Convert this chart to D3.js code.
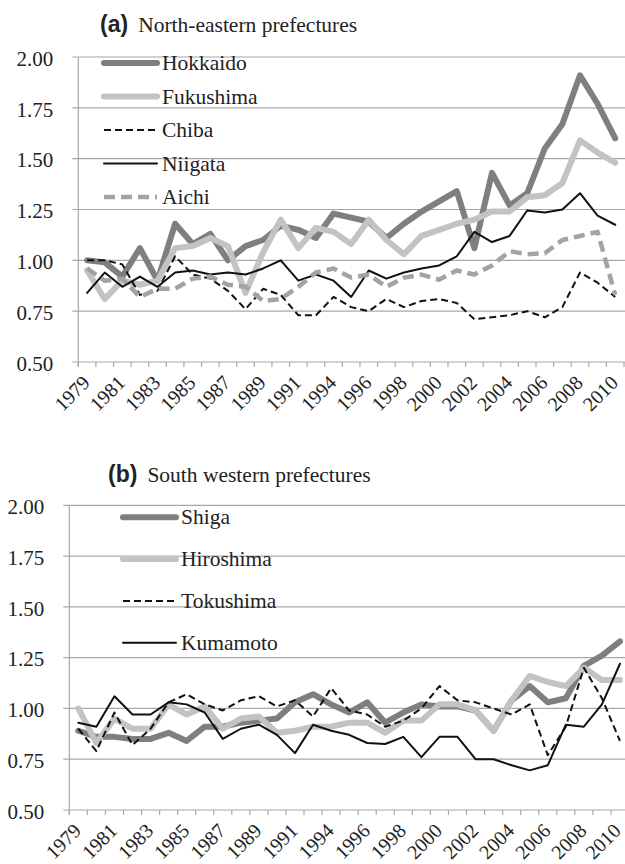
<!DOCTYPE html>
<html>
<head>
<meta charset="utf-8">
<script src="https://cdn.jsdelivr.net/npm/d3@7"></script>
<style>
  body { margin: 0; background: #fff; }
  svg { display: block; }
</style>
</head>
<body>
<div id="chart"></div>
<script>
// categories: 1993 is not in the series
const years = [1979,1980,1981,1982,1983,1984,1985,1986,1987,1988,1989,1990,1991,1992,
               1994,1995,1996,1997,1998,1999,2000,2001,2002,2003,2004,2005,2006,2007,2008,2009,2010];
const yTicks = [0.5, 0.75, 1.0, 1.25, 1.5, 1.75, 2.0];

// (a) North-eastern prefectures
const hokkaido  = [1.00,0.99,0.92,1.06,0.90,1.18,1.08,1.13,1.00,1.07,1.10,1.17,1.15,1.11,1.23,1.21,1.19,1.11,1.18,1.24,1.29,1.34,1.06,1.43,1.27,1.33,1.55,1.67,1.91,1.77,1.60];
const fukushima = [0.95,0.81,0.90,0.88,0.90,1.06,1.07,1.11,1.07,0.84,1.04,1.20,1.06,1.16,1.14,1.08,1.20,1.10,1.03,1.12,1.15,1.18,1.20,1.24,1.24,1.31,1.32,1.38,1.59,1.53,1.48];
const chiba     = [1.00,1.00,0.98,0.83,0.85,1.02,0.93,0.91,0.85,0.76,0.86,0.83,0.73,0.73,0.82,0.77,0.75,0.81,0.77,0.80,0.81,0.79,0.71,0.72,0.73,0.75,0.72,0.77,0.94,0.89,0.82];
const niigata   = [0.84,0.94,0.87,0.92,0.87,0.94,0.95,0.93,0.94,0.93,0.96,1.00,0.90,0.93,0.90,0.82,0.95,0.91,0.94,0.96,0.975,1.02,1.14,1.09,1.12,1.245,1.235,1.25,1.33,1.22,1.175];
const aichi     = [0.96,0.90,0.91,0.82,0.86,0.86,0.91,0.92,0.88,0.87,0.80,0.81,0.87,0.94,0.96,0.915,0.93,0.87,0.915,0.93,0.905,0.95,0.93,0.975,1.045,1.03,1.035,1.10,1.12,1.14,0.83];

// (b) South western prefectures
const shiga     = [0.89,0.86,0.86,0.85,0.85,0.88,0.84,0.91,0.91,0.93,0.94,0.95,1.03,1.07,1.02,0.98,1.03,0.93,0.98,1.02,1.01,1.01,0.99,0.89,1.04,1.11,1.03,1.05,1.21,1.26,1.33];
const hiroshima = [1.00,0.83,0.95,0.90,0.90,1.02,0.97,1.01,0.90,0.95,0.96,0.88,0.89,0.91,0.91,0.93,0.93,0.88,0.94,0.94,1.02,1.02,0.99,0.89,1.04,1.16,1.13,1.11,1.20,1.14,1.14];
const tokushima = [0.90,0.79,0.98,0.82,0.90,1.03,1.07,1.02,0.99,1.04,1.06,1.01,1.04,0.96,1.10,0.99,0.97,0.91,0.94,1.00,1.11,1.04,1.03,1.00,0.97,1.02,0.77,0.91,1.20,1.05,0.84];
const kumamoto  = [0.93,0.91,1.06,0.97,0.97,1.03,1.02,0.98,0.85,0.90,0.92,0.87,0.78,0.92,0.89,0.87,0.83,0.825,0.86,0.76,0.86,0.86,0.75,0.75,0.72,0.695,0.72,0.92,0.91,1.02,1.22];

const styles = {
    darkThick:  {stroke: "#7f7f7f", width: 6,   dash: null},
    lightThick: {stroke: "#c3c3c3", width: 6,   dash: null},
    blackDash:  {stroke: "#111",    width: 2,   dash: "7,4"},
    blackLine:  {stroke: "#111",    width: 2,   dash: null},
    grayDash:   {stroke: "#a3a3a3", width: 4.5, dash: "11,6"}
};

const W = 625, H = 864;
const svg = d3.select("#chart").append("svg")
    .attr("width", W).attr("height", H)
    .attr("viewBox", [0, 0, W, H]);

const serif = "'Liberation Serif', 'Times New Roman', serif";
const sans = "'Liberation Sans', Arial, sans-serif";

function drawPanel(o) {
    const x = d3.scaleBand().domain(years).range([o.left, o.right]).padding(0);
    const y = d3.scaleLinear().domain([0.5, 2.0]).range([o.bottom, o.top]);
    const cx = d => x(d) + x.bandwidth() / 2;
    const g = svg.append("g");

    // title
    const t = g.append("text").attr("x", o.titleX).attr("y", o.titleY).attr("fill", "#222");
    t.append("tspan").attr("font-family", sans).attr("font-weight", "bold")
        .attr("font-size", "23px").text(o.tag);
    t.append("tspan").attr("font-family", serif).attr("font-size", "21.5px")
        .attr("dx", 10).text(o.title);

    // gridlines + y labels
    g.append("g").selectAll("line").data(yTicks).join("line")
        .attr("x1", o.left - 6).attr("x2", W + 5)
        .attr("y1", d => y(d)).attr("y2", d => y(d))
        .attr("stroke", "#a8a8a8").attr("stroke-width", 1.2);
    g.append("g").selectAll("text").data(yTicks).join("text")
        .attr("x", o.left - 25).attr("y", d => y(d)).attr("dy", "0.42em")
        .attr("text-anchor", "end")
        .attr("font-family", serif).attr("font-size", "21px").attr("fill", "#222")
        .text(d => d3.format(".2f")(d));

    // y axis line
    g.append("line").attr("x1", o.left).attr("x2", o.left)
        .attr("y1", o.top).attr("y2", o.bottom + 5)
        .attr("stroke", "#a8a8a8").attr("stroke-width", 1.2);

    // x tick marks at category boundaries
    const bounds = years.map(d => x(d)).concat([o.right]);
    g.append("g").selectAll("line").data(bounds).join("line")
        .attr("x1", d => d).attr("x2", d => d)
        .attr("y1", o.bottom).attr("y2", o.bottom + 5)
        .attr("stroke", "#a8a8a8").attr("stroke-width", 1.2);

    // rotated year labels, every other category
    g.append("g").selectAll("text").data(years.filter((d, i) => i % 2 === 0)).join("text")
        .attr("transform", d => `translate(${Math.min(cx(d) + 4, W - 3)},${o.bottom + 22}) rotate(-45)`)
        .attr("text-anchor", "end")
        .attr("font-family", serif).attr("font-size", "20px").attr("fill", "#222")
        .text(d => d);

    // series
    const line = d3.line().x((d, i) => cx(years[i])).y(d => y(d));
    o.series.forEach(s => {
        const st = styles[s.style];
        g.append("path").datum(s.values)
            .attr("d", line)
            .attr("fill", "none")
            .attr("stroke", st.stroke)
            .attr("stroke-width", st.width)
            .attr("stroke-linejoin", "round")
            .attr("stroke-linecap", st.dash ? "butt" : "round")
            .attr("stroke-dasharray", st.dash);
    });

    // legend
    const lg = g.append("g").selectAll("g").data(o.series).join("g")
        .attr("transform", (d, i) => `translate(${o.legendX},${o.legendY + i * o.legendStep})`);
    lg.append("line").attr("x1", 0).attr("x2", 53).attr("y1", 0).attr("y2", 0)
        .attr("stroke", d => styles[d.style].stroke)
        .attr("stroke-width", d => styles[d.style].width)
        .attr("stroke-dasharray", d => styles[d.style].dash)
        .attr("stroke-linecap", d => styles[d.style].dash ? "butt" : "round");
    lg.append("text").attr("x", 58).attr("y", 7)
        .attr("font-family", serif).attr("font-size", "21.5px").attr("fill", "#222")
        .text(d => d.name);
}

drawPanel({
    tag: "(a)", title: "North-eastern prefectures", titleX: 100, titleY: 32,
    left: 78.3, right: 624, top: 57, bottom: 362,
    legendX: 104, legendY: 63, legendStep: 33.5,
    series: [
        {name: "Hokkaido",  values: hokkaido,  style: "darkThick"},
        {name: "Fukushima", values: fukushima, style: "lightThick"},
        {name: "Chiba",     values: chiba,     style: "blackDash"},
        {name: "Niigata",   values: niigata,   style: "blackLine"},
        {name: "Aichi",     values: aichi,     style: "grayDash"}
    ]
});

drawPanel({
    tag: "(b)", title: "South western prefectures", titleX: 108, titleY: 482,
    left: 69.3, right: 629, top: 505.3, bottom: 810,
    legendX: 123, legendY: 517.3, legendStep: 41.8,
    series: [
        {name: "Shiga",     values: shiga,     style: "darkThick"},
        {name: "Hiroshima", values: hiroshima, style: "lightThick"},
        {name: "Tokushima", values: tokushima, style: "blackDash"},
        {name: "Kumamoto",  values: kumamoto,  style: "blackLine"}
    ]
});
</script>
</body>
</html>
